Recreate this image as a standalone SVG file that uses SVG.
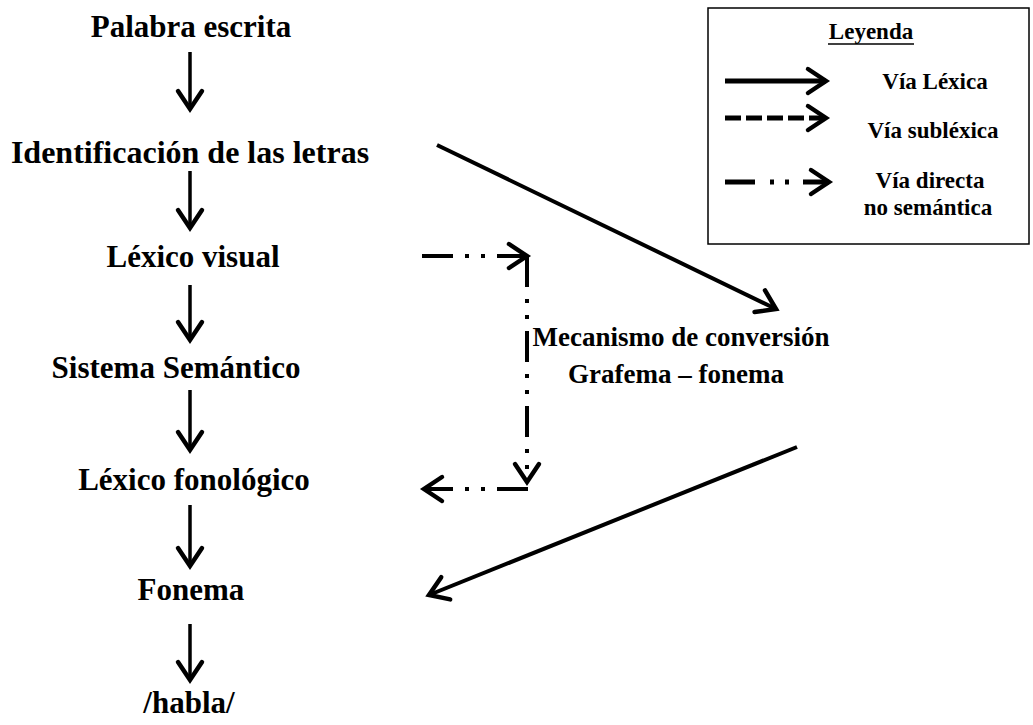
<svg xmlns="http://www.w3.org/2000/svg" width="1033" height="725" viewBox="0 0 1033 725">
<style>
text{font-family:"Liberation Serif","Times New Roman",serif;font-weight:bold;fill:#000;text-anchor:middle}
.n{font-size:31px}
.m{font-size:27px}
.lg{font-size:23px}
.ln{fill:none;stroke:#000;stroke-width:4}
.v{fill:none;stroke:#000;stroke-width:3.5}
.dd{fill:none;stroke:#000;stroke-width:4;stroke-dasharray:31 12 4 12 4 12}
</style>
<defs>
<marker id="ch" markerUnits="userSpaceOnUse" viewBox="-25 -16 30 32" refX="0" refY="0" markerWidth="30" markerHeight="32" orient="auto" overflow="visible">
<path d="M-18,-12 L0,0 L-18,12" fill="none" stroke="#000" stroke-width="4.5" stroke-linecap="round" stroke-linejoin="miter"/>
</marker>
</defs>
<rect width="1033" height="725" fill="#fff"/>
<g id="n1"><text class="n" x="191" y="37">Palabra escrita</text></g>
<g id="n2"><text class="n" x="190" y="163" style="font-size:32px">Identificación de las letras</text></g>
<g id="n3"><text class="n" x="193" y="267">Léxico visual</text></g>
<g id="n4"><text class="n" x="176" y="378">Sistema Semántico</text></g>
<g id="n5"><text class="n" x="194" y="490">Léxico fonológico</text></g>
<g id="n6"><text class="n" x="191" y="600">Fonema</text></g>
<g id="n7"><text class="n" x="189" y="713">/habla/</text></g>
<g id="n8"><text class="m" x="681" y="346">Mecanismo de conversión</text><text class="m" x="676" y="383">Grafema – fonema</text></g>
<g id="legend">
<rect x="708" y="8" width="321" height="236" fill="none" stroke="#000" stroke-width="1.5"/>
<text class="lg" x="871" y="39">Leyenda</text>
<line x1="828" y1="44" x2="914" y2="44" stroke="#000" stroke-width="1.5"/>
<line x1="725" y1="81" x2="826" y2="81" stroke="#000" stroke-width="5" marker-end="url(#ch)"/>
<line x1="725" y1="118" x2="826" y2="118" stroke="#000" stroke-width="5" stroke-dasharray="16 5" marker-end="url(#ch)"/>
<line x1="725" y1="182" x2="829" y2="182" stroke="#000" stroke-width="5" stroke-dasharray="30 15 4 11 4 14" marker-end="url(#ch)"/>
<text class="lg" x="935" y="89">Vía Léxica</text>
<text class="lg" x="933" y="138">Vía subléxica</text>
<text class="lg" x="930" y="188">Vía directa</text>
<text class="lg" x="928" y="215">no semántica</text>
</g>
<g id="connectors">
<line class="v" x1="190" y1="52" x2="190" y2="109" marker-end="url(#ch)"/>
<line class="v" x1="190" y1="171" x2="190" y2="228" marker-end="url(#ch)"/>
<line class="v" x1="190" y1="285" x2="190" y2="340" marker-end="url(#ch)"/>
<line class="v" x1="190" y1="390" x2="190" y2="450" marker-end="url(#ch)"/>
<line class="v" x1="190" y1="505" x2="190" y2="566" marker-end="url(#ch)"/>
<line class="v" x1="190" y1="624" x2="190" y2="680" marker-end="url(#ch)"/>
<line class="ln" x1="437" y1="145" x2="776" y2="309" marker-end="url(#ch)"/>
<line class="ln" x1="797" y1="447" x2="429" y2="595" marker-end="url(#ch)"/>
<line class="dd" x1="422" y1="256" x2="527" y2="256" marker-end="url(#ch)"/>
<line class="dd" x1="527" y1="256" x2="527" y2="482" marker-end="url(#ch)"/>
<line class="dd" x1="528" y1="489" x2="424" y2="489" marker-end="url(#ch)"/>
</g>
</svg>
